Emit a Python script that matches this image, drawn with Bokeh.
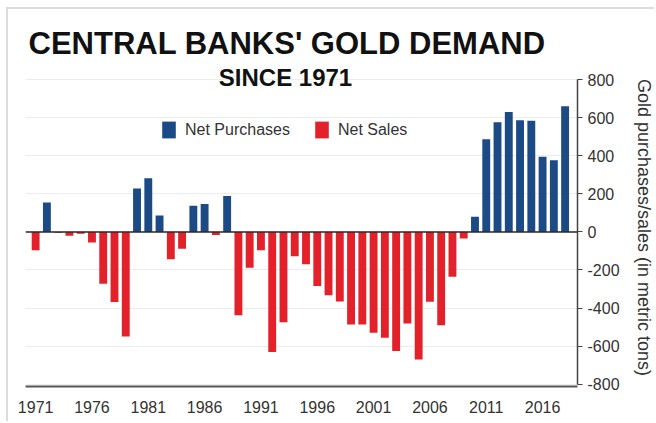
from bokeh.plotting import figure
from bokeh.models import (ColumnDataSource, FixedTicker, Span, Label, Legend,
                          LegendItem)
from bokeh.embed import file_html
from bokeh.resources import INLINE

# ---- data ----
years = list(range(1971, 2019))
demand = [-96, 154, -5, -20, -10, -56, -272, -368, -549, 228,
          281, 86, -144, -88, 137, 146, -17, 188, -438, -189,
          -96, -631, -474, -128, -170, -284, -333, -365, -486, -486,
          -530, -556, -626, -481, -670, -367, -490, -236, -35, 79,
          486, 576, 630, 586, 583, 394, 376, 660]
x_ticks = [1971, 1976, 1981, 1986, 1991, 1996, 2001, 2006, 2011, 2016]
y_ticks = [-800, -600, -400, -200, 0, 200, 400, 600, 800]
y_tick_labels = ["-800", "-600", "-400", "-200", "0", "200", "400", "600", "800"]
title_text = "CENTRAL BANKS' GOLD DEMAND"
subtitle_text = "SINCE 1971"
series_names = ["Net Purchases", "Net Sales"]
axis_title = "Gold purchases/sales (in metric tons)"

BLUE = "#1b4a85"
RED = "#e3212b"
FONT = "Liberation Sans"

pos_src = ColumnDataSource(dict(
    x=[y for y, v in zip(years, demand) if v > 0],
    top=[v for v in demand if v > 0]))
neg_src = ColumnDataSource(dict(
    x=[y for y, v in zip(years, demand) if v <= 0],
    top=[v for v in demand if v <= 0]))

p = figure(width=648, height=414, x_range=(1970.1, 2019.1), y_range=(-812, 858),
           y_axis_location="right", output_backend="svg", toolbar_location=None,
           min_border_left=17, min_border_top=59, min_border_right=74,
           min_border_bottom=37, background_fill_color="white",
           border_fill_color="white")
p.outline_line_color = None
p.styles = {"margin-left": "6px", "margin-top": "7px",
            "border-left": "2px solid #dcdcdc", "border-top": "2px solid #dcdcdc"}

# title
p.title.text = title_text
p.title.align = "left"
p.title.offset = 3
p.title.standoff = 15
p.title.text_font = FONT
p.title.text_font_style = "bold"
p.title.text_font_size = "31px"
p.title.text_color = "#111111"

r_pos = p.vbar(x="x", top="top", bottom=0, width=0.7, source=pos_src,
               fill_color=BLUE, line_color=None)
r_neg = p.vbar(x="x", top="top", bottom=0, width=0.7, source=neg_src,
               fill_color=RED, line_color=None)

# grid
p.xgrid.grid_line_color = None
p.ygrid.ticker = FixedTicker(ticks=y_ticks)
p.ygrid.grid_line_color = "#ececec"
p.ygrid.grid_line_width = 1

# x axis
xa = p.xaxis[0]
xa.ticker = FixedTicker(ticks=x_ticks)
xa.major_tick_line_color = None
xa.minor_tick_line_color = None
xa.axis_line_color = "#555555"
xa.axis_line_width = 2
xa.major_label_standoff = 8
xa.major_label_text_font = FONT
xa.major_label_text_font_size = "16px"
xa.major_label_text_color = "#333333"

# y axis (right)
ya = p.yaxis[0]
ya.ticker = FixedTicker(ticks=y_ticks)
ya.major_label_overrides = {t: s for t, s in zip(y_ticks, y_tick_labels)}
ya.bounds = (-800, 800)
ya.axis_line_color = "#444444"
ya.axis_line_width = 1.5
ya.major_tick_line_color = "#444444"
ya.major_tick_out = 5
ya.major_tick_in = 0
ya.minor_tick_line_color = None
ya.major_label_standoff = 5
ya.major_label_text_font = FONT
ya.major_label_text_font_size = "16px"
ya.major_label_text_color = "#333333"
ya.axis_label = axis_title
ya.axis_label_standoff = 11
ya.axis_label_text_font = FONT
ya.axis_label_text_font_style = "normal"
ya.axis_label_text_font_size = "18px"
ya.axis_label_text_color = "#333333"

# zero line
p.add_layout(Span(location=0, dimension="width", line_color="#2a2a2a", line_width=1.5))

# legend
legend = Legend(items=[LegendItem(label=series_names[0], renderers=[r_pos]),
                       LegendItem(label=series_names[1], renderers=[r_neg])],
                orientation="horizontal", location=(135, 246),
                glyph_width=17, glyph_height=21, label_height=21,
                label_standoff=8, spacing=23, padding=0, margin=0,
                border_line_color=None, background_fill_alpha=0,
                label_text_font=FONT, label_text_font_size="16px",
                label_text_color="#333333")
p.add_layout(legend)

# subtitle
p.add_layout(Label(x=260, y=309, x_units="screen", y_units="screen", text=subtitle_text,
                   text_font=FONT, text_font_style="bold", text_font_size="24px",
                   text_color="#111111", text_baseline="alphabetic", text_align="center"))

open("out.html", "w").write(file_html(p, INLINE))
